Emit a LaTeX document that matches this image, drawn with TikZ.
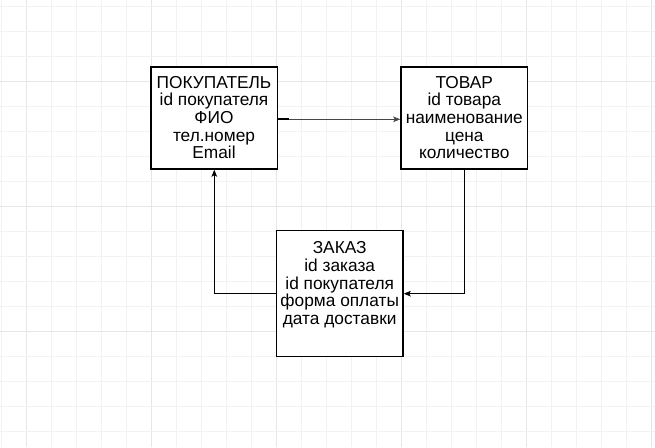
\documentclass[tikz,border=0pt]{standalone}
\usepackage{fontspec}
\setmainfont{Liberation Sans}
\usetikzlibrary{arrows.meta}
\definecolor{gridminor}{HTML}{F2F2F2}
\definecolor{gridmajor}{HTML}{E6E6E6}
\begin{document}
\begin{tikzpicture}[x=1pt,y=-1pt,
  entity/.style={draw=black,fill=white,line width=1.3pt,minimum width=126.7pt,minimum height=102pt,inner sep=0pt},
  entitytall/.style={entity,minimum height=126pt},
  etext/.style={anchor=north,inner sep=0pt,align=center,font=\fontsize{17.3}{17.6}\selectfont},
  conn/.style={line width=1.3pt,draw=black,-{Stealth[length=7pt,width=5.5pt,inset=1.5pt]}},
  gminor/.style={draw=gridminor,line width=1pt},
  gmajor/.style={draw=gridmajor,line width=1pt}]
\useasboundingbox (0,0) rectangle (655,447);
\fill[white] (0,0) rectangle (655,447);
% grid
\begin{scope}
\clip (0,0) rectangle (655,447);
\foreach \k in {0,...,26}{
  \pgfmathtruncatemacro{\m}{mod(\k,5)}
  \ifnum\m=1 \draw[gmajor] (1.7+25*\k,0) -- (1.7+25*\k,447);
  \else \draw[gminor] (1.7+25*\k,0) -- (1.7+25*\k,447); \fi
}
\foreach \k in {0,...,18}{
  \pgfmathtruncatemacro{\m}{mod(\k,5)}
  \ifnum\m=3 \draw[gmajor] (0,6+25*\k) -- (655,6+25*\k);
  \else \draw[gminor] (0,6+25*\k) -- (655,6+25*\k); \fi
}
\end{scope}
% boxes
\node[entity] (pok) at (214.3,118) {};
\node[entity] (tov) at (464.3,118) {};
\node[entitytall] (zak) at (339.7,293.7) {};
\node[etext] (pokt) at (214,76) {ПОКУПАТЕЛЬ\\id покупателя\\ФИО\\тел.номер\\Email};
\node[etext] (tovt) at (464.3,76) {ТОВАР\\id товара\\наименование\\цена\\количество};
\node[etext] (zakt) at (339.7,241.7) {ЗАКАЗ\\id заказа\\id покупателя\\форма оплаты\\дата доставки};
% connectors
\draw[conn,draw=black!72] ([yshift=-1.3pt]pok.east) -- ([yshift=-1.3pt]tov.west);
\draw[line width=1.8pt,draw=black] ([yshift=-1.3pt]pok.east) -- ([xshift=11pt,yshift=-1.3pt]pok.east);
\draw[conn] (tov.south) |- (zak.east);
\draw[conn] (zak.west) -| (pok.south);
\end{tikzpicture}
\end{document}
